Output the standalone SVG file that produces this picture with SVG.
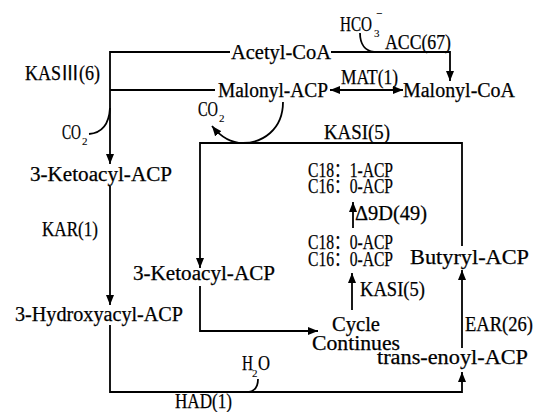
<svg xmlns="http://www.w3.org/2000/svg" width="539" height="412" viewBox="0 0 539 412">
<style>
text{font-family:'Liberation Serif','Noto Sans CJK SC',serif;font-size:20px;fill:#000;stroke:#000;stroke-width:0.25}
.s{font-size:11px;stroke-width:0.1}
.c{fill:none;stroke:#000;stroke-width:1.8}
</style>
<defs>
<marker id="a" viewBox="0 0 10 8" refX="10" refY="4" markerWidth="10" markerHeight="8" markerUnits="userSpaceOnUse" orient="auto-start-reverse">
<path d="M0,0 L10,4 L0,8 z" fill="#000"/>
</marker>
</defs>
<rect width="539" height="412" fill="#fff"/>
<g id="connectors">
<path class="c" d="M230,52 H110 V164" marker-end="url(#a)"/>
<path class="c" d="M110,90 H215"/>
<path class="c" d="M89,134 C101,133 109,125 110,108"/>
<path class="c" d="M331,52 H450 V81" marker-end="url(#a)"/>
<path class="c" d="M360,33 C360,45 366,51 374,52"/>
<path class="c" d="M330,90 H403" marker-start="url(#a)" marker-end="url(#a)"/>
<path class="c" d="M283,102 C283,130 262,143 243,143 C230,143 220,136 212,126" marker-end="url(#a)"/>
<path class="c" d="M462,246 V143 H200 V268" marker-end="url(#a)"/>
<path class="c" d="M110,186 V305" marker-end="url(#a)"/>
<path class="c" d="M110,325 V392 H462 V372" marker-end="url(#a)"/>
<path class="c" d="M258,379 C258,387 254,391 249,392"/>
<path class="c" d="M200,286 V331 H318" marker-end="url(#a)"/>
<path class="c" d="M352,310 V273" marker-end="url(#a)"/>
<path class="c" d="M353,228 V202" marker-end="url(#a)"/>
<path class="c" d="M462,348 V270" marker-end="url(#a)"/>
</g>
<g id="acetylcoa"><text x="231" y="59" textLength="100" lengthAdjust="spacingAndGlyphs">Acetyl-CoA</text></g>
<g id="hco3"><text x="340" y="31" textLength="32" lengthAdjust="spacingAndGlyphs">HCO</text><text class="s" x="374" y="37">3</text><text class="s" x="376" y="17">−</text></g>
<g id="acc"><text x="385" y="49" textLength="66" lengthAdjust="spacingAndGlyphs">ACC(67)</text></g>
<g id="kas3"><text x="25" y="80" textLength="75" lengthAdjust="spacingAndGlyphs">KAS<tspan font-family="Noto Sans CJK SC">Ⅲ</tspan>(6)</text></g>
<g id="malonylacp"><text x="218" y="97" textLength="110" lengthAdjust="spacingAndGlyphs">Malonyl-ACP</text></g>
<g id="mat"><text x="341" y="84" textLength="57" lengthAdjust="spacingAndGlyphs">MAT(1)</text></g>
<g id="malonylcoa"><text x="403" y="97" textLength="112" lengthAdjust="spacingAndGlyphs">Malonyl-CoA</text></g>
<g id="co2a"><text x="198" y="116" textLength="20" lengthAdjust="spacingAndGlyphs">CO</text><text class="s" x="219" y="122">2</text></g>
<g id="co2b"><text x="62" y="139" textLength="19" lengthAdjust="spacingAndGlyphs">CO</text><text class="s" x="82" y="145">2</text></g>
<g id="kasi1"><text x="324" y="139" textLength="66" lengthAdjust="spacingAndGlyphs">KASI(5)</text></g>
<g id="keto1"><text x="30" y="181" textLength="142" lengthAdjust="spacingAndGlyphs">3-Ketoacyl-ACP</text></g>
<g id="kar"><text x="42" y="236" textLength="56" lengthAdjust="spacingAndGlyphs">KAR(1)</text></g>
<g id="c181">
<text x="308" y="177" textLength="85" lengthAdjust="spacingAndGlyphs">C18：1-ACP</text>
<text x="308" y="193" textLength="85" lengthAdjust="spacingAndGlyphs">C16：0-ACP</text>
</g>
<g id="d9d"><text x="355" y="220" textLength="72" lengthAdjust="spacingAndGlyphs">Δ9D(49)</text></g>
<g id="c180">
<text x="308" y="249" textLength="85" lengthAdjust="spacingAndGlyphs">C18：0-ACP</text>
<text x="308" y="266" textLength="85" lengthAdjust="spacingAndGlyphs">C16：0-ACP</text>
</g>
<g id="butyryl"><text x="410" y="264" textLength="119" lengthAdjust="spacingAndGlyphs">Butyryl-ACP</text></g>
<g id="keto2"><text x="133" y="280" textLength="142" lengthAdjust="spacingAndGlyphs">3-Ketoacyl-ACP</text></g>
<g id="kasi2"><text x="360" y="296" textLength="65" lengthAdjust="spacingAndGlyphs">KASI(5)</text></g>
<g id="hydroxy"><text x="15" y="321" textLength="168" lengthAdjust="spacingAndGlyphs">3-Hydroxyacyl-ACP</text></g>
<g id="cycle"><text x="332" y="331" textLength="48" lengthAdjust="spacingAndGlyphs">Cycle</text><text x="312" y="350" textLength="88" lengthAdjust="spacingAndGlyphs">Continues</text></g>
<g id="ear"><text x="465" y="331" textLength="68" lengthAdjust="spacingAndGlyphs">EAR(26)</text></g>
<g id="enoyl"><text x="377" y="364" textLength="151" lengthAdjust="spacingAndGlyphs">trans-enoyl-ACP</text></g>
<g id="h2o"><text x="242" y="370" textLength="11" lengthAdjust="spacingAndGlyphs">H</text><text class="s" x="252" y="377">2</text><text x="258" y="370" textLength="12" lengthAdjust="spacingAndGlyphs">O</text></g>
<g id="had"><text x="175" y="408" textLength="57" lengthAdjust="spacingAndGlyphs">HAD(1)</text></g>
</svg>
